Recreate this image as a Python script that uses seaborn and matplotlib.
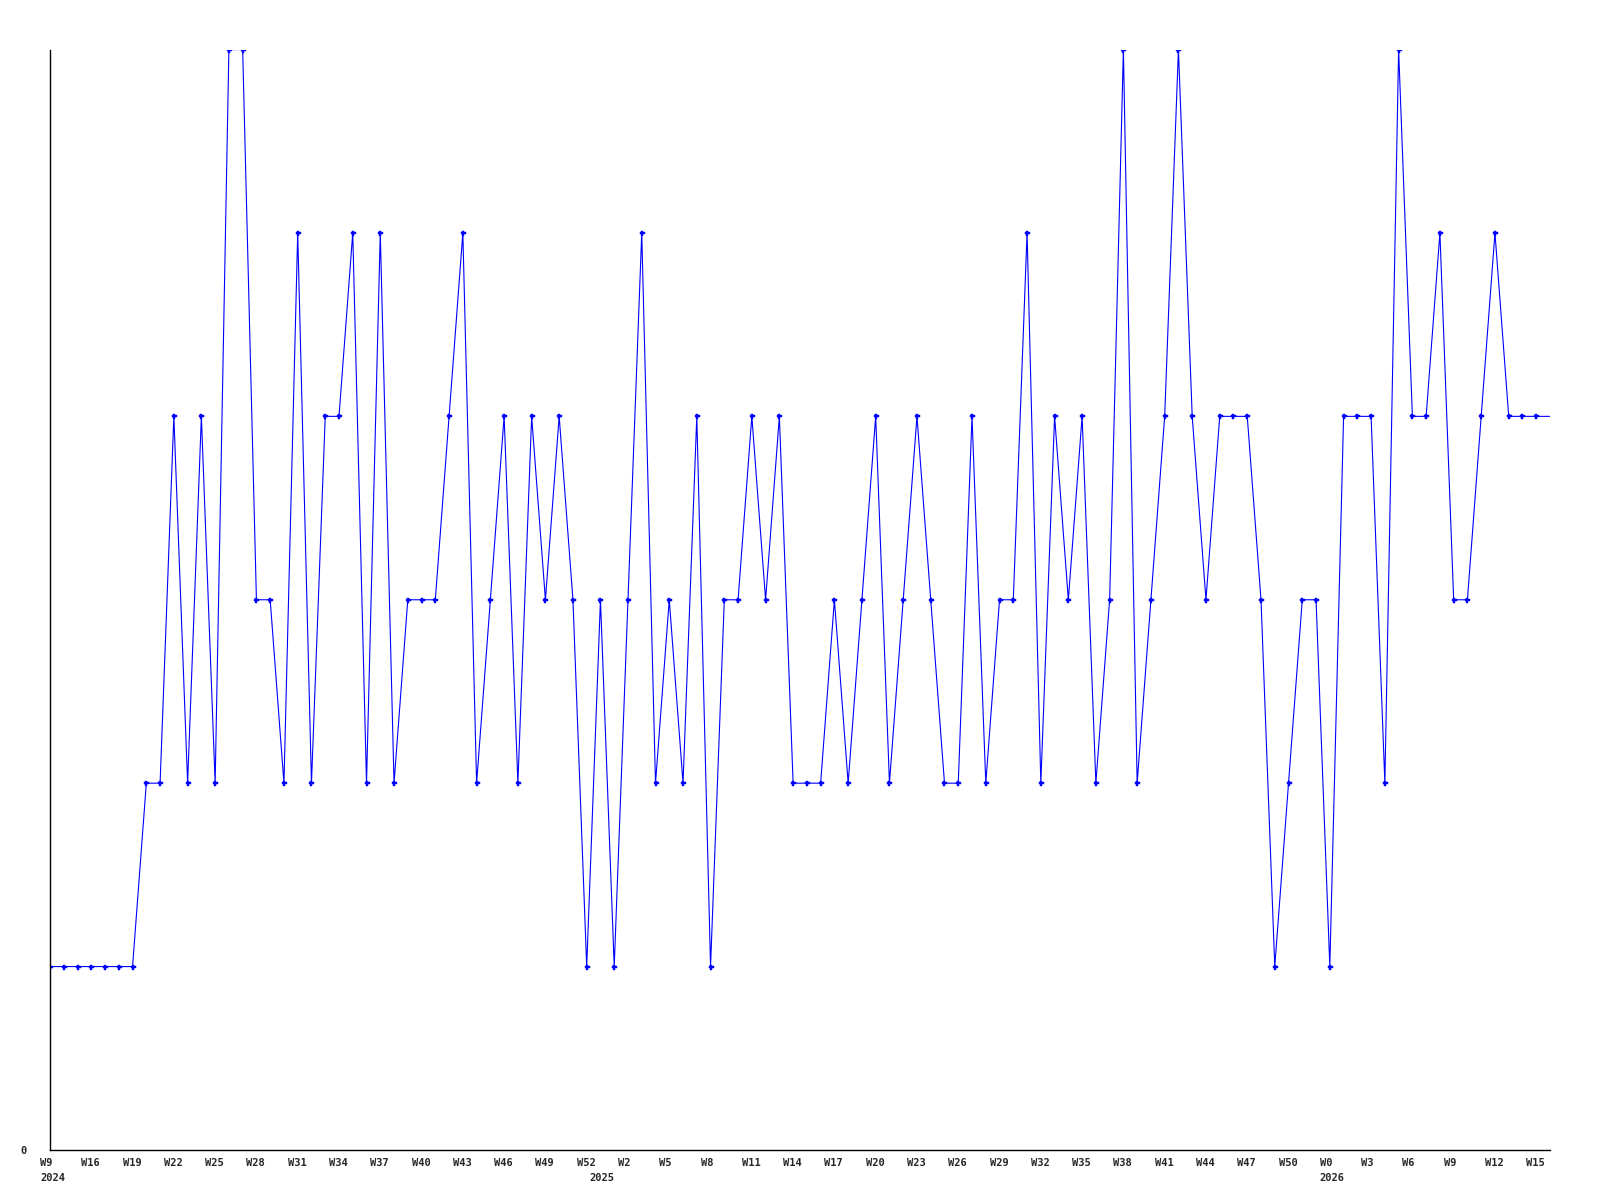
import matplotlib
matplotlib.use("Agg")
import matplotlib.pyplot as plt
import matplotlib.transforms as mtransforms
import pandas as pd
import seaborn as sns

# weekly counts, one value per week starting 2024 W9
values = [1, 1, 1, 1, 1, 1, 1, 2, 2, 4, 2, 4, 2, 6, 6, 3, 3, 2, 5, 2, 4, 4,
          5, 2, 5, 2, 3, 3, 3, 4, 5, 2, 3, 4, 2, 4, 3, 4, 3, 1, 3, 1, 3, 5,
          2, 3, 2, 4, 1, 3, 3, 4, 3, 4, 2, 2, 2, 3, 2, 3, 4, 2, 3, 4, 3, 2,
          2, 4, 2, 3, 3, 5, 2, 4, 3, 4, 2, 3, 6, 2, 3, 4, 6, 4, 3, 4, 4, 4,
          3, 1, 2, 3, 3, 1, 4, 4, 4, 2, 6, 4, 4, 5, 3, 3, 4, 5, 4, 4, 4, 4]

week_labels = ["W9", "W16", "W19", "W22", "W25", "W28", "W31", "W34", "W37",
               "W40", "W43", "W46", "W49", "W52", "W2", "W5", "W8", "W11",
               "W14", "W17", "W20", "W23", "W26", "W29", "W32", "W35", "W38",
               "W41", "W44", "W47", "W50", "W0", "W3", "W6", "W9", "W12", "W15"]
year_labels = ["2024", "2025", "2026"]
year_ticks = [0, 39.9, 93]

df = pd.DataFrame({"week": range(len(values)), "count": values})

sns.set_style("white")
plt.rcParams["font.family"] = ["DejaVu Sans Mono"]

fig = plt.figure(figsize=(16, 12), dpi=100)
ax = fig.add_axes([0.03125, 0.0417, 0.9375, 0.917])

sns.lineplot(data=df, x="week", y="count", ax=ax, color="#0000ff",
             linewidth=0.8, marker="P", markersize=3.6, markeredgewidth=0.3,
             markeredgecolor="#0000ff", markevery=list(range(len(values) - 1)))

ax.set_xlim(0, len(values) - 1)
ax.set_ylim(0, 6)
ax.set_xlabel("")
ax.set_ylabel("")

for side in ["top", "right"]:
    ax.spines[side].set_visible(False)
for side in ["left", "bottom"]:
    ax.spines[side].set_color("black")
    ax.spines[side].set_linewidth(1.0)

ax.set_yticks([0], ["0"])
ax.tick_params(axis="y", length=0, pad=17, labelsize=7.5)
for lab in ax.get_yticklabels():
    lab.set_fontweight("bold")

ax.set_xticks(range(0, 3 * len(week_labels), 3), week_labels)
ax.tick_params(axis="x", length=0, pad=6, labelsize=7.5)
shift = mtransforms.ScaledTranslation(-10 / 100, 0, fig.dpi_scale_trans)
for lab in ax.get_xticklabels():
    lab.set_horizontalalignment("left")
    lab.set_fontweight("bold")
    lab.set_transform(lab.get_transform() + shift)

for yr, pos in zip(year_labels, year_ticks):
    ax.annotate(yr, xy=(pos, 0), xycoords=("data", "axes fraction"),
                xytext=(-7.2, -20.5), textcoords="offset points",
                ha="left", va="center", fontsize=7.5, fontweight="bold",
                annotation_clip=False)

ax.grid(False)
fig.savefig("out.png", dpi=100)
